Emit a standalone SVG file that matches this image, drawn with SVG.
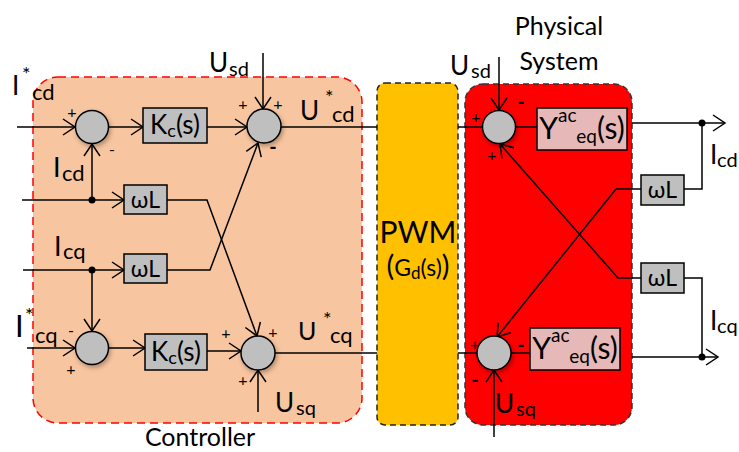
<svg xmlns="http://www.w3.org/2000/svg" width="739" height="452" viewBox="0 0 739 452">
<defs>
<style>
.ln{fill:none;stroke:#000;stroke-width:1.5}
.ar{marker-end:url(#arr)}
.sum{fill:#BFBFBF;stroke:#000;stroke-width:1.5;filter:url(#sh)}
.blk{fill:#BFBFBF;stroke:#000;stroke-width:1.5}
.ybox{fill:#E6B9B8;stroke:#000;stroke-width:1.5}
text{font-family:Lato,"Liberation Sans",sans-serif;fill:#000}
.sg{font-size:16px;text-anchor:middle}
.sgb{font-size:20px;font-weight:bold;text-anchor:middle}
.mid{text-anchor:middle}
.dot{fill:#000}
</style>
<marker id="arr" markerUnits="userSpaceOnUse" viewBox="-14 -10 16 20" refX="0" refY="0" markerWidth="16" markerHeight="20" orient="auto" overflow="visible">
<path d="M-12,-8 L0,0 L-12,8" fill="none" stroke="#000" stroke-width="1.5"/>
</marker>
<filter id="sh" x="-40%" y="-40%" width="180%" height="180%">
<feDropShadow dx="1.5" dy="2.5" stdDeviation="2" flood-color="#000" flood-opacity="0.3"/>
</filter>
</defs>

<g id="controller">
<rect x="33" y="77" width="329" height="346" rx="25" fill="#F7C59F" stroke="#FF0000" stroke-width="1.5" stroke-dasharray="8 5"/>
<text x="200" y="446" class="mid" font-size="25">Controller</text>
</g>
<g id="pwm">
<rect x="377" y="83" width="81" height="342" rx="8" fill="#FFC000" stroke="#222" stroke-width="1.5" stroke-dasharray="6 4"/>
<text x="418" y="243" class="mid" font-size="30">PWM</text>
<text x="418" y="276" class="mid"><tspan font-size="29">(</tspan><tspan font-size="23">G</tspan><tspan font-size="17" dy="3">d</tspan><tspan font-size="23" dy="-3">(s)</tspan><tspan font-size="29">)</tspan></text>
</g>
<g id="physical">
<rect x="465" y="84" width="167" height="341" rx="18" fill="#FF0000" stroke="#333" stroke-width="1.5" stroke-dasharray="6 4"/>
<text x="559" y="35" class="mid" font-size="25">Physical</text>
<text x="559" y="70" class="mid" font-size="25">System</text>
</g>

<g id="connectors">
<path class="ln ar" d="M17,127 H75"/>
<path class="ln ar" d="M109,127 H143"/>
<path class="ln ar" d="M207,127 H247"/>
<path class="ln ar" d="M263,53 V109"/>
<path class="ln" d="M281,127 H377"/>
<path class="ln" d="M22,200 H92"/>
<path class="ln ar" d="M92,200 V144"/>
<path class="ln ar" d="M92,200 H124"/>
<path class="ln ar" d="M167,200 H207 L257,336"/>
<path class="ln" d="M23,270 H92"/>
<path class="ln ar" d="M92,270 H124"/>
<path class="ln ar" d="M92,270 V331"/>
<path class="ln ar" d="M167,270 H210 L258,143"/>
<path class="ln ar" d="M27,348 H75"/>
<path class="ln ar" d="M109,348 H145"/>
<path class="ln ar" d="M207,351 H241"/>
<path class="ln ar" d="M258,412 V370"/>
<path class="ln" d="M275,353 H377"/>
<path class="ln" d="M458,127 H483"/>
<path class="ln ar" d="M499,57 V110"/>
<path class="ln" d="M516,127 H537"/>
<path class="ln ar" d="M632,123 H725"/>
<path class="ln" d="M702,123 V189 H684"/>
<path class="ln ar" d="M641,189 H616 L497,337"/>
<path class="ln ar" d="M641,278 H618 L500,144"/>
<path class="ln" d="M458,353 H477"/>
<path class="ln ar" d="M494,437 V370"/>
<path class="ln" d="M511,353 H530"/>
<path class="ln ar" d="M632,357 H718"/>
<path class="ln" d="M702,357 V278 H684"/>
<circle class="dot" cx="92" cy="200" r="3.5"/>
<circle class="dot" cx="92" cy="270" r="3.5"/>
<circle class="dot" cx="702" cy="123" r="3.5"/>
<circle class="dot" cx="702" cy="357" r="3.5"/>
</g>

<g id="sum1"><circle class="sum" cx="92" cy="127" r="16.5"/><text class="sg" x="72" y="118">+</text><text class="sg" x="112" y="155">-</text></g>
<g id="kc1"><rect class="blk" x="143" y="108" width="64" height="35"/><text x="175" y="134" class="mid" font-size="26">K<tspan font-size="18" dy="3">c</tspan><tspan dy="-3">(s)</tspan></text></g>
<g id="sum2"><circle class="sum" cx="264" cy="126" r="17"/><text class="sg" x="243" y="110">+</text><text class="sg" x="278" y="110">+</text><text class="sgb" x="273" y="154">-</text></g>
<g id="wl1"><rect class="blk" x="124" y="185" width="43" height="29"/><text x="145.5" y="208" class="mid" font-size="23">ωL</text></g>
<g id="wl2"><rect class="blk" x="124" y="254" width="43" height="29"/><text x="145.5" y="277" class="mid" font-size="23">ωL</text></g>
<g id="sum3"><circle class="sum" cx="92" cy="348" r="16.5"/><text class="sg" x="71" y="336">-</text><text class="sg" x="71" y="375">+</text></g>
<g id="kc2"><rect class="blk" x="145" y="334" width="62" height="36"/><text x="176" y="361" class="mid" font-size="26">K<tspan font-size="18" dy="3">c</tspan><tspan dy="-3">(s)</tspan></text></g>
<g id="sum4"><circle class="sum" cx="258" cy="353" r="17"/><text class="sg" x="226" y="339">+</text><text class="sg" x="273" y="338">+</text><text class="sg" x="243" y="386">+</text></g>

<g id="sum5"><circle class="sum" cx="499" cy="127" r="16.5"/><text class="sg" x="476" y="123">+</text><text class="sgb" x="521" y="109">-</text><text class="sg" x="492" y="161">+</text></g>
<g id="y1"><rect class="ybox" x="537" y="108" width="90" height="42"/><text x="582" y="139" class="mid" font-size="30">Y<tspan font-size="19" dy="-17">ac</tspan><tspan font-size="19" dy="21">eq</tspan><tspan dy="-4">(s)</tspan></text></g>
<g id="wl3"><rect class="blk" x="641" y="175" width="43" height="30"/><text x="662.5" y="198" class="mid" font-size="23">ωL</text></g>
<g id="wl4"><rect class="blk" x="641" y="263" width="43" height="30"/><text x="662.5" y="286" class="mid" font-size="23">ωL</text></g>
<g id="sum6"><circle class="sum" cx="494" cy="353" r="17"/><text class="sg" x="475" y="350">+</text><text class="sgb" x="521" y="352">-</text><text class="sgb" x="475" y="387">-</text></g>
<g id="y2"><rect class="ybox" x="530" y="328" width="90" height="42"/><text x="575" y="359" class="mid" font-size="30">Y<tspan font-size="19" dy="-17">ac</tspan><tspan font-size="19" dy="21">eq</tspan><tspan dy="-4">(s)</tspan></text></g>

<g id="labels">
<text><tspan x="12" y="95" font-size="26">I</tspan><tspan x="22" y="81" font-size="20">*</tspan><tspan x="32" y="100" font-size="22">cd</tspan></text>
<text><tspan x="53" y="177" font-size="27">I</tspan><tspan x="62" y="181" font-size="22">cd</tspan></text>
<text><tspan x="54" y="256" font-size="27">I</tspan><tspan x="63" y="259" font-size="22">cq</tspan></text>
<text><tspan x="15" y="337" font-size="31">I</tspan><tspan x="25" y="322" font-size="20">*</tspan><tspan x="35" y="343" font-size="22">cq</tspan></text>
<text><tspan x="209" y="72" font-size="26">U</tspan><tspan x="229" y="76" font-size="20">sd</tspan></text>
<text><tspan x="300" y="120" font-size="26">U</tspan><tspan x="325" y="104" font-size="20">*</tspan><tspan x="332" y="122" font-size="22">cd</tspan></text>
<text><tspan x="298" y="340" font-size="25">U</tspan><tspan x="323" y="326" font-size="20">*</tspan><tspan x="330" y="343" font-size="22">cq</tspan></text>
<text><tspan x="275" y="412" font-size="26">U</tspan><tspan x="296" y="415" font-size="20">sq</tspan></text>
<text><tspan x="450" y="75" font-size="26">U</tspan><tspan x="471" y="78" font-size="20">sd</tspan></text>
<text><tspan x="495" y="413" font-size="26">U</tspan><tspan x="516" y="416" font-size="20">sq</tspan></text>
<text><tspan x="710" y="164" font-size="26">I</tspan><tspan x="717" y="167" font-size="20">cd</tspan></text>
<text><tspan x="710" y="330" font-size="26">I</tspan><tspan x="717" y="333" font-size="20">cq</tspan></text>
</g>
</svg>
